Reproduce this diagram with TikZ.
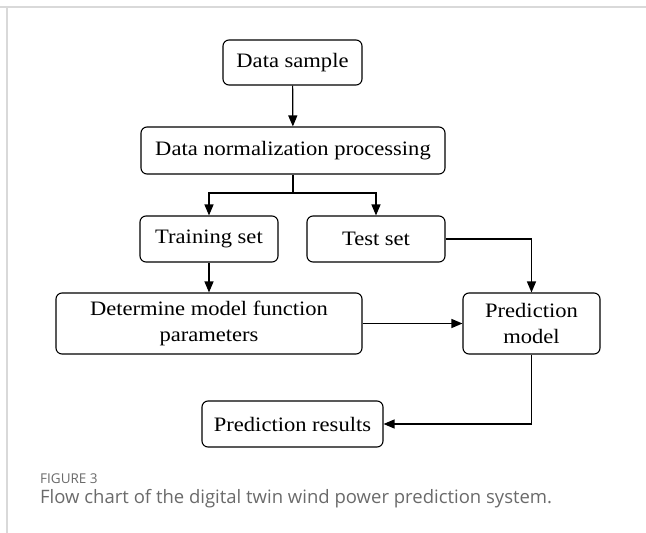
\documentclass[tikz,border=0pt]{standalone}
\usepackage{fontspec}
\setmainfont{Liberation Serif}[FakeStretch=1.1]
\newfontfamily\capfont{Open Sans}
\usetikzlibrary{arrows.meta}
\definecolor{framegray}{HTML}{D9D9D9}
\definecolor{capgray}{HTML}{6A6A6A}
\begin{document}
\begin{tikzpicture}[x=1pt,y=-1pt,
  stepbox/.style={draw,rounded corners=6pt,line width=1.1pt,inner sep=0pt,align=center,
    font=\fontsize{20.5}{26}\selectfont},
  link/.style={line width=1.2pt,-{Triangle[length=11pt,width=9pt]}}]
\useasboundingbox (0,0) rectangle (646,533);
\draw[framegray,line width=1.2pt] (0,7) -- (646,7) (7,7) -- (7,533);
% boxes
\node[stepbox,minimum width=139pt,minimum height=45pt] (sample) at (292.5,62.5) {Data sample};
\node[stepbox,minimum width=304pt,minimum height=47pt] (norm) at (293,150.5) {Data normalization processing};
\node[stepbox,minimum width=138pt,minimum height=46pt] (train) at (209,239) {Training set};
\node[stepbox,minimum width=138pt,minimum height=46pt] (test) at (376,239) {Test set};
\node[stepbox,minimum width=306pt,minimum height=61pt] (det) at (209,323.5) {Determine model function\\parameters};
\node[stepbox,minimum width=137pt,minimum height=61pt] (pred) at (531.5,323.5) {Prediction\\model};
\node[stepbox,minimum width=181pt,minimum height=46pt] (res) at (292.5,424) {Prediction results};
% connectors
\coordinate (split) at (293,193);
\draw[link] (sample) -- (norm);
\draw[line width=1.2pt] (norm.south) -- (split);
\foreach \t in {train,test}
  \draw[link] (split) -| (\t.north);
\draw[link] (train) -- (det);
\draw[link] (test.east) -| (pred.north);
\draw[link] (det.east) -- (pred.west);
\draw[link] (pred.south) |- (res.east);
% caption
\node[anchor=base west,inner sep=0pt,text=capgray,font=\capfont\fontsize{13.5}{16}\selectfont] (fig) at (40,483) {FIGURE 3};
\node[anchor=base west,inner sep=0pt,text=capgray,font=\capfont\fontsize{18.5}{22}\selectfont] (cap) at (40,503) {Flow chart of the digital twin wind power prediction system.};
\end{tikzpicture}
\end{document}
